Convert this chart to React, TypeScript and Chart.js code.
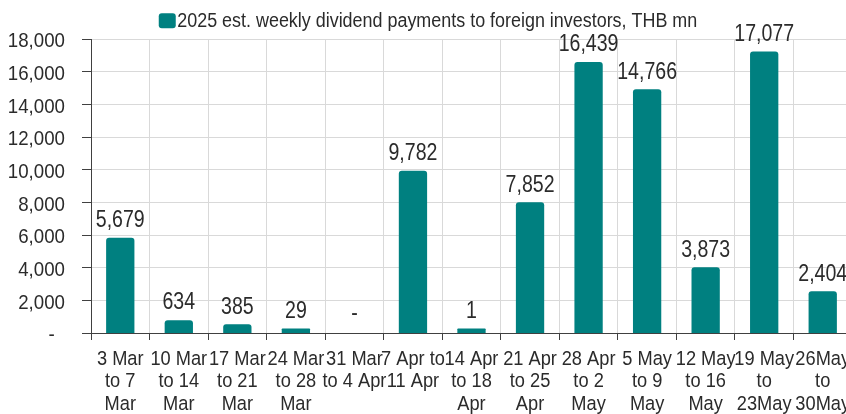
import React, { useEffect, useRef } from "react";
import { Chart, registerables } from "chart.js";

Chart.register(...registerables);

const categories: string[][] = [
  ["3 Mar", "to 7", "Mar"],
  ["10 Mar", "to 14", "Mar"],
  ["17 Mar", "to 21", "Mar"],
  ["24 Mar", "to 28", "Mar"],
  ["31 Mar", "to 4 Apr"],
  ["7 Apr to", "11 Apr"],
  ["14 Apr", "to 18", "Apr"],
  ["21 Apr", "to 25", "Apr"],
  ["28 Apr", "to 2", "May"],
  ["5 May", "to 9", "May"],
  ["12 May", "to 16", "May"],
  ["19 May", "to", "23May"],
  ["26May", "to", "30May"],
];

const payments: number[] = [5679, 634, 385, 29, 0, 9782, 1, 7852, 16439, 14766, 3873, 17077, 2404];

const seriesLabel = "2025 est. weekly dividend payments to foreign investors, THB mn";
const yMin = 0;
const yMax = 18000;
const yStep = 2000;

const FONT = '"Liberation Sans", Arial, sans-serif';
const TEXT = "#2b2b2b";
const BAR = "#008080";
const GRID = "#d9d9d9";
const AXIS = "#404040";
const INFLATE = 2.5;
const MIN_BAR = 2;

// horizontal condensing factors to emulate a narrow face
const Y_SX = 0.89;
const X_SX = 0.77;
const LABEL_SX = 0.85;
const LEGEND_WIDTH = 520;

let currentSx = 1;

function patchContext(ctx: any) {
  if (ctx.__patched) return;
  const orig = ctx.fillText;
  ctx.fillText = function (text: string, x: number, y: number, maxWidth?: number) {
    if (currentSx === 1) {
      if (maxWidth === undefined) return orig.call(this, text, x, y);
      return orig.call(this, text, x, y, maxWidth);
    }
    this.save();
    this.translate(x, y);
    this.scale(currentSx, 1);
    orig.call(this, text, 0, 0);
    this.restore();
  };
  ctx.__patched = true;
}

const fmt = (v: number) => (v === 0 ? "-" : v.toLocaleString("en-US"));

const condensePlugin = {
  id: "condense",
  beforeDraw() {
    currentSx = Y_SX;
  },
  afterDraw() {
    currentSx = 1;
  },
};

const valueLabelPlugin = {
  id: "valueLabels",
  afterDatasetsDraw(chart: any) {
    const { ctx } = chart;
    const x = chart.scales.x;
    const y = chart.scales.y;
    currentSx = LABEL_SX;
    ctx.save();
    ctx.font = `23px ${FONT}`;
    ctx.fillStyle = TEXT;
    ctx.textAlign = "center";
    ctx.textBaseline = "middle";
    const base = y.getPixelForValue(0);
    payments.forEach((v, i) => {
      const px = x.getPixelForValue(i);
      let top: number;
      if (v === 0) {
        top = base - 2;
      } else {
        top = Math.min(y.getPixelForValue(v), base - MIN_BAR) - INFLATE;
      }
      ctx.fillText(fmt(v), px, top - 17);
    });
    ctx.restore();
    currentSx = X_SX;
  },
};

const legendPlugin = {
  id: "customLegend",
  afterDraw(chart: any) {
    const { ctx } = chart;
    currentSx = 1;
    ctx.save();
    ctx.font = `20px ${FONT}`;
    const raw = ctx.measureText(seriesLabel).width;
    const sx = LEGEND_WIDTH / raw;
    const boxW = 17;
    const boxH = 15;
    const gap = 1.5;
    const total = boxW + gap + LEGEND_WIDTH;
    const x0 = chart.width / 2 - total / 2;
    ctx.fillStyle = BAR;
    ctx.beginPath();
    if ((ctx as any).roundRect) {
      (ctx as any).roundRect(x0, 13.3, boxW, boxH, 3);
    } else {
      ctx.rect(x0, 13.3, boxW, boxH);
    }
    ctx.fill();
    ctx.fillStyle = TEXT;
    ctx.textAlign = "left";
    ctx.textBaseline = "middle";
    currentSx = sx;
    ctx.fillText(seriesLabel, x0 + boxW + gap, 21);
    currentSx = 1;
    ctx.restore();
  },
};

export default function App() {
  const canvasRef = useRef<HTMLCanvasElement | null>(null);

  useEffect(() => {
    const canvas = canvasRef.current;
    if (!canvas) return;
    const ctx2d = canvas.getContext("2d");
    if (ctx2d) patchContext(ctx2d);
    const chart = new Chart(canvas, {
      type: "bar",
      data: {
        labels: categories,
        datasets: [
          {
            label: seriesLabel,
            data: payments.map((v) => (v === 0 ? null : v)),
            backgroundColor: BAR,
            borderWidth: 0,
            borderRadius: 3,
            inflateAmount: INFLATE,
            minBarLength: MIN_BAR,
            barPercentage: 0.398,
            categoryPercentage: 1,
            clip: { left: false, top: false, right: false, bottom: 0 } as any,
          },
        ],
      },
      options: {
        responsive: false,
        animation: false,
        events: [],
        layout: {
          autoPadding: false,
          padding: { top: 39, right: 4, left: 0, bottom: 0 },
        },
        plugins: {
          legend: { display: false },
          tooltip: { enabled: false },
        },
        scales: {
          x: {
            z: 1,
            offset: true,
            grid: {
              offset: true,
              color: GRID,
              lineWidth: 1,
              tickColor: AXIS,
              tickLength: 7,
              drawTicks: true,
            },
            border: { color: AXIS, width: 1 },
            ticks: {
              color: TEXT,
              font: { family: FONT, size: 20.5, lineHeight: 1.1 },
              padding: 8,
              maxRotation: 0,
              minRotation: 0,
              autoSkip: false,
            },
            afterFit(scale: any) {
              scale.height = 81;
              scale.paddingLeft = 0;
              scale.paddingRight = 0;
            },
          },
          y: {
            min: yMin,
            max: yMax,
            grid: {
              color: GRID,
              lineWidth: 1,
              tickColor: AXIS,
              tickLength: 9,
            },
            border: { color: AXIS, width: 1 },
            ticks: {
              stepSize: yStep,
              color: TEXT,
              padding: 17,
              labelOffset: 2.5,
              font: { family: FONT, size: 21 },
              callback: (v: any) => (Number(v) === 0 ? "-  " : Number(v).toLocaleString("en-US")),
            },
            afterFit(scale: any) {
              scale.width = 91;
              scale.paddingTop = 0;
              scale.paddingBottom = 0;
            },
          },
        },
      },
      plugins: [condensePlugin, valueLabelPlugin, legendPlugin],
    } as any);
    return () => chart.destroy();
  }, []);

  return (
    <div
      style={{
        position: "fixed",
        top: 0,
        left: 0,
        width: 846,
        height: 414,
        overflow: "hidden",
        background: "#ffffff",
      }}
    >
      <canvas ref={canvasRef} width={856} height={414} style={{ display: "block" }} />
    </div>
  );
}
